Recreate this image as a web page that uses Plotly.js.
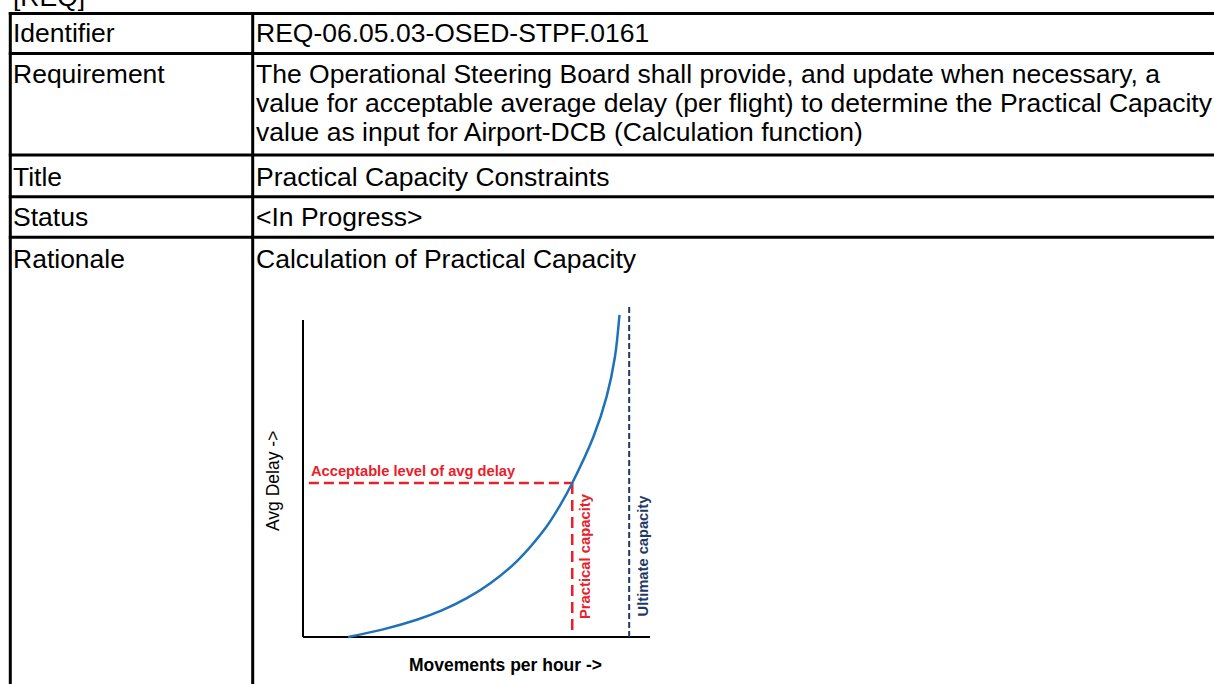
<!DOCTYPE html>
<html>
<head>
<meta charset="utf-8">
<script src="https://cdn.plot.ly/plotly-3.0.1.min.js"></script>
<style>html,body{margin:0;padding:0;background:#fff;}#chart{width:1214px;height:684px;}</style>
</head>
<body>
<div id="chart"></div>
<script>
// ---- Data ----
const docTag = "[REQ]";
const fieldLabels = ["Identifier", "Requirement", "Title", "Status", "Rationale"];
const identifierValue = ["REQ-06.05.03-OSED-STPF.0161"];
const requirementValue = [
  "The Operational Steering Board shall provide, and update when necessary, a",
  "value for acceptable average delay (per flight) to determine the Practical Capacity",
  "value as input for Airport-DCB (Calculation function)"
];
const titleValue = ["Practical Capacity Constraints"];
const statusValue = ["<In Progress>"];
const rationaleValue = ["Calculation of Practical Capacity"];

// Delay curve (movements per hour vs avg delay, arbitrary units 0..100)
const movements = [13.0, 23.1, 32.8, 40.0, 47.2, 54.0, 61.6, 70.0, 74.0, 77.6, 83.7, 87.5, 89.9, 91.2];
const avgDelay  = [0.0,  2.3,  5.2,  8.0, 11.7, 16.2, 22.8, 33.0, 39.5, 46.4, 60.3, 72.4, 84.4, 97.0];
const acceptableDelay = 46.4;
const practicalCapacity = 77.6;
const ultimateCapacity = 94.0;
const axisXMax = 100;
const axisYMax = 95.5;
const xAxisTitle = "Movements per hour ->";
const yAxisTitle = "Avg Delay ->";
const acceptableLabel = "Acceptable level of avg delay";
const practicalLabel = "Practical capacity";
const ultimateLabel = "Ultimate capacity";

// ---- Layout helpers (pixel -> paper) ----
const W = 1214, H = 684;
const px = x => x / W;
const py = y => 1 - y / H;
const FONT = "Liberation Sans, Arial, sans-serif";
const cellFont = {family: FONT, size: 26.5, color: "#000"};

const hLines = [13.5, 53.5, 155, 196.7, 237.3];
const vLines = [10.3, 252.7];
const shapes = [];
hLines.forEach(y => shapes.push({type: "line", xref: "paper", yref: "paper",
  x0: px(8.8), x1: px(1214), y0: py(y), y1: py(y), line: {color: "#000", width: 3}}));
vLines.forEach(x => shapes.push({type: "line", xref: "paper", yref: "paper",
  x0: px(x), x1: px(x), y0: py(12), y1: py(684), line: {color: "#000", width: 3}}));

const annotations = [];
function cell(text, x, y, font) {
  annotations.push({text: text, xref: "paper", yref: "paper", x: px(x), y: py(y),
    xanchor: "left", yanchor: "middle", showarrow: false, font: font || cellFont});
}
cell(docTag, 11, -2.5);
const labelY = [32.5, 74, 176.5, 217.5, 258.5];
fieldLabels.forEach((t, i) => cell(t, 11, labelY[i]));
cell(identifierValue[0], 254, 32.5);
requirementValue.forEach((t, i) => cell(t, 254, [74, 103, 132][i]));
cell(titleValue[0], 254, 176.5);
cell(statusValue[0], 254, 217.5);
cell(rationaleValue[0], 254, 258.5);

// chart labels
annotations.push({text: "<b>" + acceptableLabel + "</b>", xref: "x", yref: "y",
  x: 1.7, y: acceptableDelay + 3.6, xanchor: "left", yanchor: "middle", showarrow: false,
  font: {family: FONT, size: 14.7, color: "#e8202a"}});
annotations.push({text: "<b>" + practicalLabel + "</b>", xref: "x", yref: "y",
  x: practicalCapacity + 3.7, y: 24.4, textangle: -90, xanchor: "center", yanchor: "middle",
  showarrow: false, font: {family: FONT, size: 14.8, color: "#e8202a"}});
annotations.push({text: "<b>" + ultimateLabel + "</b>", xref: "x", yref: "y",
  x: ultimateCapacity + 4.0, y: 24.6, textangle: -90, xanchor: "center", yanchor: "middle",
  showarrow: false, font: {family: FONT, size: 14.7, color: "#1f3864"}});
annotations.push({text: yAxisTitle, xref: "paper", yref: "paper",
  x: px(273), y: py(481), textangle: -90, xanchor: "center", yanchor: "middle",
  showarrow: false, font: {family: FONT, size: 17.5, color: "#000"}});
annotations.push({text: "<b>" + xAxisTitle + "</b>", xref: "paper", yref: "paper",
  x: px(505), y: py(665), xanchor: "center", yanchor: "middle",
  showarrow: false, font: {family: FONT, size: 17.5, color: "#000"}});

const traces = [
  {x: [0, 0], y: [axisYMax, 0], mode: "lines", line: {color: "#000", width: 2}, hoverinfo: "skip"},
  {x: [0, axisXMax], y: [0, 0], mode: "lines", line: {color: "#000", width: 2}, hoverinfo: "skip"},
  {x: [ultimateCapacity, ultimateCapacity], y: [0, 100], mode: "lines",
   line: {color: "#1f3864", width: 2, dash: "6px,3px"}, hoverinfo: "skip"},
  {x: [1.7, practicalCapacity], y: [acceptableDelay, acceptableDelay], mode: "lines",
   line: {color: "#e8202a", width: 2.5, dash: "10px,5px"}, hoverinfo: "skip"},
  {x: [practicalCapacity, practicalCapacity], y: [acceptableDelay, 2], mode: "lines",
   line: {color: "#e8202a", width: 2.5, dash: "11px,6px"}, hoverinfo: "skip"},
  {x: movements, y: avgDelay, mode: "lines", line: {color: "#1f72b8", width: 2.5, shape: "spline", smoothing: 1}, hoverinfo: "skip"}
];

const layout = {
  width: W, height: H, margin: {l: 0, r: 0, t: 0, b: 0},
  paper_bgcolor: "#fff", plot_bgcolor: "rgba(0,0,0,0)", showlegend: false,
  xaxis: {domain: [296.06 / W, 656.94 / W], range: [-2, 102], visible: false, fixedrange: true},
  yaxis: {domain: [(H - 643.64) / H, (H - 298.36) / H], range: [-2, 102], visible: false, fixedrange: true},
  shapes: shapes, annotations: annotations
};
Plotly.newPlot("chart", traces, layout, {displayModeBar: false, staticPlot: true});
</script>
</body>
</html>
